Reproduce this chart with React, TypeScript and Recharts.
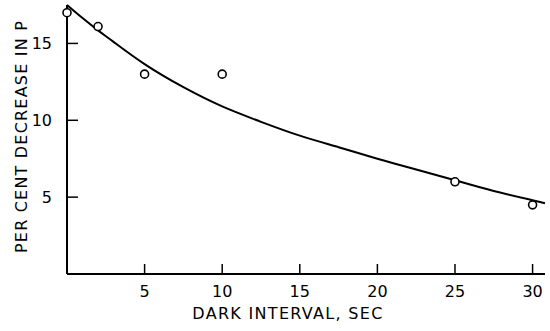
import { ComposedChart, Line, Scatter, XAxis, YAxis } from "recharts"

// measured points (dark interval in sec, % decrease in P)
const interval = [0, 2, 5, 10, 25, 30]
const decrease = [17.0, 16.1, 13.0, 13.0, 6.0, 4.5]

// fitted smooth curve
const curveT = [0, 1, 2, 3, 5, 7.5, 10, 12.5, 15, 17.5, 20, 22.5, 25, 27.5, 30, 30.8]
const curveP = [17.5, 16.65, 15.85, 15.1, 13.65, 12.15, 10.9, 9.9, 9.0, 8.25, 7.5, 6.8, 6.1, 5.4, 4.8, 4.6]

const xTicks = [5, 10, 15, 20, 25, 30]
const yTicks = [5, 10, 15]

const points = interval.map((t, i) => ({ t, p: decrease[i] }))
const curve = curveT.map((t, i) => ({ t, p: curveP[i] }))

const font = "'DejaVu Sans', sans-serif"

const XTick = (props: any) => {
  const { x, y, payload } = props
  return (
    <g>
      <line x1={x} x2={x} y1={y} y2={y - 10} stroke="#000" strokeWidth={1.5} />
      <text x={x} y={y + 23} textAnchor="middle" fontSize={16} fontFamily={font} fill="#000">
        {payload.value}
      </text>
    </g>
  )
}

const YTick = (props: any) => {
  const { x, y, payload } = props
  return (
    <g>
      <line x1={x} x2={x + 11} y1={y} y2={y} stroke="#000" strokeWidth={1.5} />
      <text x={x - 15} y={y + 6} textAnchor="end" fontSize={16} fontFamily={font} fill="#000">
        {payload.value}
      </text>
    </g>
  )
}

export default function App() {
  return (
    <div style={{ position: "absolute", left: 0, top: 0, background: "#fff" }}>
      <ComposedChart width={550} height={331} margin={{ top: 5, right: 5, bottom: 0, left: 0 }}>
        <XAxis
          type="number"
          dataKey="t"
          domain={[0, 30.8]}
          ticks={xTicks}
          tickSize={0}
          tickMargin={0}
          tick={<XTick />}
          tickLine={false}
          axisLine={{ stroke: "#000", strokeWidth: 2 }}
          height={57}
          label={{
            value: "DARK INTERVAL, SEC",
            position: "insideBottom",
            offset: 12,
            dx: -18,
            fontSize: 16,
            fontFamily: font,
            fill: "#000",
            letterSpacing: 1.3,
          }}
        />
        <YAxis
          type="number"
          dataKey="p"
          domain={[0, 17.5]}
          ticks={yTicks}
          tickSize={0}
          tickMargin={0}
          tick={<YTick />}
          tickLine={false}
          axisLine={{ stroke: "#000", strokeWidth: 2 }}
          width={67}
          label={{
            value: "PER CENT DECREASE IN P",
            angle: -90,
            position: "center",
            dx: -12,
            dy: -3,
            fontSize: 16,
            fontFamily: font,
            fill: "#000",
            letterSpacing: 1.2,
          }}
        />
        <Line
          data={curve}
          dataKey="p"
          type="natural"
          stroke="#000"
          strokeWidth={2}
          dot={false}
          activeDot={false}
          isAnimationActive={false}
        />
        <Scatter
          data={points}
          dataKey="p"
          isAnimationActive={false}
          shape={(props: any) => (
            <circle cx={props.cx} cy={props.cy} r={4} fill="#fff" stroke="#000" strokeWidth={1.6} />
          )}
        />
      </ComposedChart>
    </div>
  )
}
